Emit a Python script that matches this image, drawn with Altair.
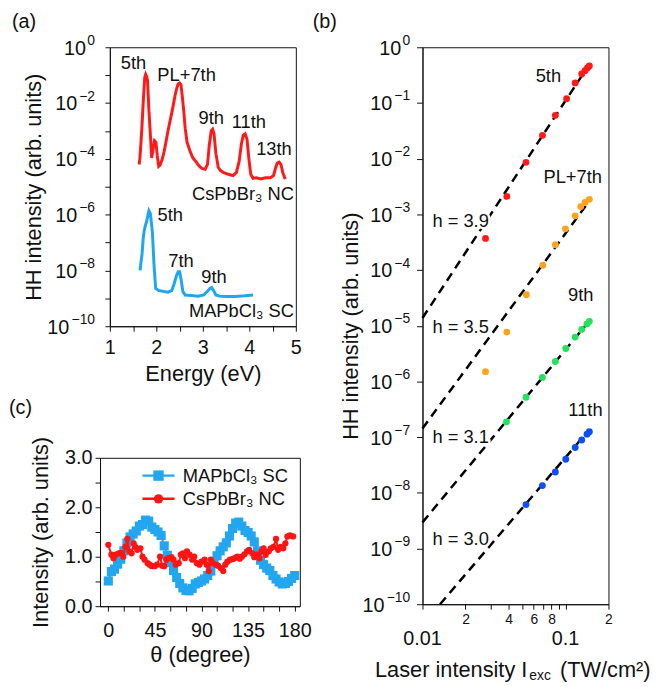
import altair as alt
import pandas as pd

FONT = "Liberation Sans"
INK = "#111111"

# ---------------- Panel (a): HH spectra ----------------
a_red_energy = [1.63, 1.645, 1.67, 1.69, 1.72, 1.75, 1.77, 1.79, 1.81, 1.84, 1.87, 1.90, 1.93, 1.96,
                1.99, 2.02, 2.05, 2.08, 2.12, 2.16, 2.20, 2.25, 2.30, 2.35, 2.40, 2.44, 2.47, 2.50,
                2.53, 2.56, 2.59, 2.62, 2.66, 2.72, 2.78, 2.85, 2.92, 2.98, 3.05, 3.10, 3.14, 3.18,
                3.21, 3.24, 3.28, 3.33, 3.38, 3.45, 3.55, 3.65, 3.72, 3.78, 3.83, 3.87, 3.91, 3.95,
                3.99, 4.03, 4.08, 4.15, 4.25, 4.35, 4.45, 4.52, 4.56, 4.60, 4.64, 4.68, 4.72, 4.76, 4.79]
a_red_intensity = [6.3e-5, 1.0e-4, 4.0e-4, 1.4e-3, 1.26e-2, 8.3e-2, 1.07e-1, 9.0e-2, 6.5e-2, 5.5e-3,
                   8.0e-4, 1.07e-4, 2.2e-4, 4.5e-4, 4.0e-4, 1.3e-4, 5.4e-5, 6.0e-5, 9.0e-5, 1.6e-4,
                   3.5e-4, 1.0e-3, 2.5e-3, 6.3e-3, 1.8e-2, 3.5e-2, 4.8e-2, 5.2e-2, 4.5e-2, 1.6e-2,
                   5.0e-3, 1.26e-3, 4.0e-4, 2.0e-4, 1.12e-4, 7.9e-5, 5.6e-5, 4.5e-5, 4.2e-5, 6.3e-5,
                   3.2e-4, 1.0e-3, 1.15e-3, 7.9e-4, 1.6e-4, 5.0e-5, 3.8e-5, 3.2e-5, 2.8e-5, 2.5e-5,
                   3.2e-5, 7.9e-5, 3.5e-4, 7.1e-4, 7.9e-4, 5.0e-4, 1.0e-4, 2.8e-5, 2.0e-5, 2.1e-5,
                   1.9e-5, 2.1e-5, 2.1e-5, 2.5e-5, 4.5e-5, 7.1e-5, 7.6e-5, 6.3e-5, 3.2e-5, 2.1e-5, 2.2e-5]
a_blue_energy = [1.65, 1.67, 1.69, 1.72, 1.74, 1.77, 1.79, 1.82, 1.84, 1.87, 1.90, 1.915, 1.95, 1.985,
                 2.05, 2.15, 2.25, 2.33, 2.38, 2.43, 2.47, 2.50, 2.53, 2.57, 2.62, 2.75, 2.90, 3.02,
                 3.10, 3.15, 3.19, 3.23, 3.28, 3.35, 3.50, 3.70, 3.90, 4.08]
a_blue_intensity = [1.0e-8, 2.0e-8, 3.5e-8, 1.6e-7, 2.7e-7, 4.5e-7, 5.4e-7, 1.0e-6, 1.38e-6, 1.1e-6,
                    4.0e-7, 2.3e-7, 1.55e-8, 2.3e-9, 1.9e-9, 1.78e-9, 1.66e-9, 1.9e-9, 3.2e-9, 6.3e-9,
                    8.9e-9, 8.9e-9, 5.0e-9, 1.78e-9, 1.32e-9, 1.26e-9, 1.2e-9, 1.32e-9, 1.78e-9,
                    2.24e-9, 2.4e-9, 1.9e-9, 1.32e-9, 1.2e-9, 1.17e-9, 1.17e-9, 1.23e-9, 1.32e-9]
a_red_label_text = ["5th", "PL+7th", "9th", "11th", "13th"]
a_red_label_energy = [1.51, 2.65, 3.18, 3.99, 4.53]
a_red_label_intensity = [0.27, 0.102, 3.0e-3, 2.1e-3, 2.2e-4]
a_blue_label_text = ["5th", "7th", "9th"]
a_blue_label_energy = [2.30, 2.53, 3.24]
a_blue_label_intensity = [9.3e-7, 2.2e-8, 5.9e-9]
a_sample_text = ["CsPbBr₃ NC", "MAPbCl₃ SC"]
a_sample_energy = [4.96, 4.96]
a_sample_intensity = [5.6e-6, 3.4e-10]
decades = [1, 1e-1, 1e-2, 1e-3, 1e-4, 1e-5, 1e-6, 1e-7, 1e-8, 1e-9, 1e-10]
decade_exponents = ["0", "−1", "−2", "−3", "−4", "−5", "−6", "−7", "−8", "−9", "−10"]
a_labelled_decades = [1, 1e-2, 1e-4, 1e-6, 1e-8, 1e-10]
a_labelled_exponents = ["0", "−2", "−4", "−6", "−8", "−10"]
a_energy_ticks = [1, 1.5, 2, 2.5, 3, 3.5, 4, 4.5, 5]

# ---------------- Panel (b): power scaling ----------------
b_orders = ["5th", "PL+7th", "9th", "11th"]
b_colors = ["#ff1a1a", "#ffa31a", "#22e35c", "#0d4ff2"]
b_red_I = [0.0276, 0.0389, 0.0530, 0.0691, 0.0850, 0.1019, 0.117, 0.130, 0.137, 0.1425, 0.147]
b_red_H = [3.7e-4, 2.1e-3, 8.6e-3, 2.62e-2, 6.0e-2, 0.119, 0.229, 0.331, 0.38, 0.424, 0.46]
b_orange_I = [0.0276, 0.0389, 0.0533, 0.0695, 0.085, 0.100, 0.117, 0.128, 0.137, 0.147]
b_orange_H = [1.5e-6, 7.7e-6, 3.6e-5, 1.22e-4, 2.84e-4, 5.5e-4, 9.4e-4, 1.38e-3, 1.63e-3, 1.86e-3]
b_green_I = [0.0387, 0.053, 0.069, 0.085, 0.1005, 0.117, 0.130, 0.1415, 0.147]
b_green_H = [1.88e-7, 5.2e-7, 1.18e-6, 2.28e-6, 3.9e-6, 6.25e-6, 8.6e-6, 1.08e-5, 1.2e-5]
b_blue_I = [0.053, 0.069, 0.085, 0.1005, 0.117, 0.130, 0.1415, 0.147]
b_blue_H = [6.15e-9, 1.35e-8, 2.37e-8, 4.0e-8, 6.5e-8, 8.9e-8, 1.13e-7, 1.25e-7]
b_fit_start_I = [0.01, 0.01, 0.01, 0.01326]
b_fit_start_H = [1.38e-5, 1.43e-7, 2.95e-9, 1e-10]
b_fit_end_I = [0.14, 0.14, 0.14, 0.14]
b_fit_end_H = [0.407, 1.47e-3, 1.05e-5, 1.18e-7]
b_order_label_I = [0.076, 0.1124, 0.128, 0.138]
b_order_label_H = [0.30, 4.7e-3, 3.6e-5, 3.0e-7]
b_h_text = ["h = 3.9", "h = 3.5", "h = 3.1", "h = 3.0"]
b_h_I = [0.01173, 0.01173, 0.01173, 0.01173]
b_h_H = [7.7e-4, 9.4e-6, 1.02e-7, 1.49e-9]
b_x_ticks = [0.01, 0.02, 0.03, 0.04, 0.05, 0.06, 0.07, 0.08, 0.09, 0.1, 0.2]
b_big_tick_values = [0.01, 0.1]
b_big_tick_text = ["0.01", "0.1"]

# ---------------- Panel (c): polarization ----------------
c_blue_theta = [0, 3, 6, 9, 12, 15, 18, 21, 24, 27, 30, 33, 36, 39, 42, 45, 48, 51, 54, 57, 60,
                63, 66, 69, 72, 75, 78, 81, 84, 87, 90, 93, 96, 99, 102, 105, 108, 111, 114, 117,
                120, 123, 126, 129, 132, 135, 138, 141, 144, 147, 150, 153, 156, 159, 162, 165,
                168, 171, 174, 177, 180]
c_blue_val = [0.51, 0.70, 0.75, 0.85, 0.95, 1.12, 1.28, 1.40, 1.46, 1.52, 1.62, 1.65, 1.74, 1.72,
              1.60, 1.55, 1.50, 1.43, 1.22, 1.03, 0.88, 0.72, 0.58, 0.46, 0.37, 0.32, 0.31, 0.36,
              0.45, 0.48, 0.51, 0.55, 0.62, 0.71, 0.86, 1.02, 1.12, 1.20, 1.28, 1.42, 1.57, 1.68,
              1.70, 1.62, 1.53, 1.49, 1.42, 1.30, 1.12, 0.93, 0.84, 0.77, 0.72, 0.62, 0.55, 0.49,
              0.45, 0.46, 0.50, 0.56, 0.62]
c_red_theta = [0, 3, 5, 7, 10, 12, 14.5, 16.5, 18.5, 20.5, 22.5, 24.5, 26, 28, 31, 33, 35, 38, 40,
               42, 45, 47, 50, 52, 54, 56, 58, 61, 63, 65, 68, 70, 72, 74, 76, 78.5, 81, 83, 85.5,
               88, 90, 93, 95, 97, 99, 101, 104, 106, 108.5, 111, 113, 115, 117.5, 120, 122, 124.5,
               127, 129, 131.5, 134, 136, 139, 141, 143.5, 146, 148, 150, 152, 155, 157, 159.5, 162,
               164, 166.5, 169, 171, 173, 175.5, 178.5]
c_red_val = [1.24, 1.04, 0.97, 1.04, 1.07, 1.08, 1.0, 1.2, 1.36, 1.11, 1.07, 1.27, 1.2, 1.14, 1.17,
             1.0, 0.94, 0.87, 0.84, 0.81, 0.81, 0.84, 1.0, 0.82, 0.81, 0.94, 0.97, 0.99, 0.94, 0.84,
             0.87, 1.04, 1.07, 0.97, 1.11, 1.04, 0.94, 1.0, 0.87, 0.84, 0.9, 0.94, 0.84, 0.71, 0.94,
             0.87, 0.84, 0.82, 0.77, 0.71, 0.84, 0.9, 0.94, 0.95, 0.97, 1.0, 0.96, 1.0, 1.05, 1.11,
             1.14, 1.07, 0.99, 1.04, 0.97, 1.11, 1.17, 1.04, 1.11, 1.17, 1.2, 1.36, 1.14, 1.2, 1.17,
             1.27, 1.41, 1.43, 1.41]
c_legend_labels = ["MAPbCl₃ SC", "CsPbBr₃ NC"]
c_legend_colors = ["#22a6f0", "#ff1414"]
c_legend_y = [2.64, 2.17]
c_legend_line_start = [33, 33]
c_legend_line_end = [64, 64]
c_legend_marker = [48.5, 48.5]
c_legend_text_x = [72, 72]
c_theta_ticks = [0, 15, 30, 45, 60, 75, 90, 105, 120, 135, 150, 165, 180]
c_val_ticks = [0, 0.5, 1, 1.5, 2, 2.5, 3]

LBL = 20
TTL = 22
ANN = 18.5


def tag(text, x, y):
    return alt.Chart(pd.DataFrame({"t": [text]})).mark_text(
        align="left", baseline="top", fontSize=20, font=FONT, color=INK
    ).encode(text="t:N", x=alt.value(x), y=alt.value(y))


def power_labels(field, yenc, values, exps, exp_x, ten_x):
    """'10' plus raised exponent, as text marks placed by the y scale."""
    df = pd.DataFrame({field: values, "e": exps})
    df["n"] = df["e"].str.len()
    layers = []
    for n, xpos in ten_x.items():
        layers.append(
            alt.Chart(df).transform_filter(f"datum.n == {n}").mark_text(
                text="10", align="right", baseline="middle", fontSize=LBL, font=FONT,
                color=INK, dy=1.5).encode(y=yenc, x=alt.value(xpos)))
    layers.append(
        alt.Chart(df).mark_text(align="right", baseline="middle", fontSize=14, font=FONT,
                                color=INK, dy=-6.5).encode(y=yenc, x=alt.value(exp_x), text="e:N"))
    return layers


# ---------- panel a ----------
ax = alt.X("energy:Q", scale=alt.Scale(domain=[1, 5], nice=False, zero=False),
           axis=alt.Axis(values=a_energy_ticks, title="Energy (eV)", labelOverlap=False,
                         labelExpr="datum.value % 1 == 0 ? format(datum.value, 'd') : ''",
                         labelPadding=7, titlePadding=6))
ay = alt.Y("intensity:Q", scale=alt.Scale(type="log", domain=[1e-10, 1], nice=False),
           axis=alt.Axis(values=decades, title="HH intensity (arb. units)", labels=False,
                         titlePadding=60))

a_red_df = pd.DataFrame({"energy": a_red_energy, "intensity": a_red_intensity})
a_blue_df = pd.DataFrame({"energy": a_blue_energy, "intensity": a_blue_intensity})
a_rl_df = pd.DataFrame({"energy": a_red_label_energy, "intensity": a_red_label_intensity, "t": a_red_label_text})
a_bl_df = pd.DataFrame({"energy": a_blue_label_energy, "intensity": a_blue_label_intensity, "t": a_blue_label_text})
a_s_df = pd.DataFrame({"energy": a_sample_energy, "intensity": a_sample_intensity, "t": a_sample_text})

a_chart = alt.layer(
    alt.Chart(a_red_df).mark_line(color="#ff1a1a", strokeWidth=3).encode(x=ax, y=ay),
    alt.Chart(a_blue_df).mark_line(color="#1ea6f0", strokeWidth=3).encode(x=ax, y=ay),
    alt.Chart(a_rl_df).mark_text(fontSize=ANN, font=FONT, color=INK, baseline="middle").encode(x=ax, y=ay, text="t:N"),
    alt.Chart(a_bl_df).mark_text(fontSize=ANN, font=FONT, color=INK, baseline="middle").encode(x=ax, y=ay, text="t:N"),
    alt.Chart(a_s_df).mark_text(fontSize=ANN, font=FONT, color=INK, baseline="middle", align="right").encode(x=ax, y=ay, text="t:N"),
    *power_labels("intensity", ay, a_labelled_decades, a_labelled_exponents, -15,
                  {1: -24, 2: -33, 3: -41}),
    tag("(a)", -99, -35),
).properties(width=188, height=282)

# ---------- panel b ----------
b_label_expr = ("datum.value == 0.02 || datum.value == 0.2 ? '2' : datum.value == 0.04 ? '4' : "
                "datum.value == 0.06 ? '6' : datum.value == 0.08 ? '8' : ''")
bx = alt.X("I:Q", scale=alt.Scale(type="log", domain=[0.01, 0.2], nice=False),
           axis=alt.Axis(values=b_x_ticks, title=None, labelExpr=b_label_expr, labelOverlap=False,
                         labelFontSize=14, labelPadding=3))
by = alt.Y("H:Q", scale=alt.Scale(type="log", domain=[1e-10, 1], nice=False),
           axis=alt.Axis(values=decades, title="HH intensity (arb. units)", labels=False,
                         tickSize=6, titlePadding=54))

pts = []
for name, col, xs, ys in [("5th", b_colors[0], b_red_I, b_red_H),
                          ("PL+7th", b_colors[1], b_orange_I, b_orange_H),
                          ("9th", b_colors[2], b_green_I, b_green_H),
                          ("11th", b_colors[3], b_blue_I, b_blue_H)]:
    for xv, yv in zip(xs, ys):
        pts.append({"order": name, "col": col, "I": xv, "H": yv})
b_pts_df = pd.DataFrame(pts)

fit_rows = []
for k in range(4):
    fit_rows.append({"fit": b_h_text[k], "I": b_fit_start_I[k], "H": b_fit_start_H[k]})
    fit_rows.append({"fit": b_h_text[k], "I": b_fit_end_I[k], "H": b_fit_end_H[k]})
b_fit_df = pd.DataFrame(fit_rows)
b_ol_df = pd.DataFrame({"I": b_order_label_I, "H": b_order_label_H, "t": b_orders})
b_h_df = pd.DataFrame({"I": b_h_I, "H": b_h_H, "t": b_h_text})
b_big_df = pd.DataFrame({"I": b_big_tick_values, "t": b_big_tick_text})

b_chart = alt.layer(
    alt.Chart(b_fit_df).mark_line(color="black", strokeWidth=2.5, strokeDash=[9, 6]).encode(
        x=bx, y=by, detail="fit:N"),
    alt.Chart(b_pts_df).mark_circle(size=48, opacity=1).encode(
        x=bx, y=by, color=alt.Color("col:N", scale=None)),
    alt.Chart(b_ol_df).mark_text(fontSize=ANN, font=FONT, color=INK, baseline="middle").encode(x=bx, y=by, text="t:N"),
    # white halo so the dashed fits break around the exponent labels, as in the original
    alt.Chart(b_h_df).mark_text(fontSize=ANN, font=FONT, color="white", stroke="white", strokeWidth=5,
                                baseline="middle", align="left").encode(x=bx, y=by, text="t:N"),
    alt.Chart(b_h_df).mark_text(fontSize=ANN, font=FONT, color=INK, baseline="middle", align="left").encode(x=bx, y=by, text="t:N"),
    alt.Chart(b_big_df).mark_text(fontSize=20, font=FONT, color=INK, baseline="middle").encode(
        x=bx, y=alt.value(598), text="t:N"),
    *power_labels("H", by, decades, decade_exponents, -12.5,
                  {1: -21.5, 2: -30.5, 3: -38.5}),
    alt.Chart(pd.DataFrame({"t": ["Laser intensity I"]})).mark_text(
        fontSize=TTL, font=FONT, color=INK, align="right", baseline="middle").encode(
        text="t:N", x=alt.value(106), y=alt.value(630)),
    alt.Chart(pd.DataFrame({"t": ["exc"]})).mark_text(
        fontSize=14, font=FONT, color=INK, align="left", baseline="middle").encode(
        text="t:N", x=alt.value(108), y=alt.value(636)),
    alt.Chart(pd.DataFrame({"t": ["(TW/cm²)"]})).mark_text(
        fontSize=TTL, font=FONT, color=INK, align="left", baseline="middle").encode(
        text="t:N", x=alt.value(139), y=alt.value(630)),
    tag("(b)", -111, -35),
).properties(width=188, height=563)

# ---------- panel c ----------
cx = alt.X("theta:Q", scale=alt.Scale(domain=[-8, 185], nice=False, zero=False),
           axis=alt.Axis(values=c_theta_ticks, title="θ (degree)", labelOverlap=False,
                         labelExpr="datum.value % 45 == 0 ? format(datum.value, 'd') : ''",
                         labelPadding=10, titlePadding=4))
cx2 = alt.X2("theta_end:Q")
cy = alt.Y("val:Q", scale=alt.Scale(domain=[0, 3], nice=False),
           axis=alt.Axis(values=c_val_ticks, title="Intensity (arb. units)", labelOverlap=False,
                         labelExpr="datum.value % 1 == 0 ? format(datum.value, '.1f') : ''",
                         labelPadding=3, titlePadding=12))

c_blue_df = pd.DataFrame({"theta": c_blue_theta, "val": c_blue_val})
c_red_df = pd.DataFrame({"theta": c_red_theta, "val": c_red_val})
c_leg_line_df = pd.DataFrame({"col": c_legend_colors, "val": c_legend_y,
                              "theta": c_legend_line_start, "theta_end": c_legend_line_end})
c_leg_mark_df = pd.DataFrame({"val": c_legend_y, "theta": c_legend_marker})
c_leg_text_df = pd.DataFrame({"label": c_legend_labels, "val": c_legend_y, "theta": c_legend_text_x})

c_chart = alt.layer(
    alt.Chart(c_blue_df).mark_line(color="#22a6f0", strokeWidth=2).encode(x=cx, y=cy),
    alt.Chart(c_blue_df).mark_square(color="#22a6f0", size=85, opacity=1).encode(x=cx, y=cy),
    alt.Chart(c_red_df).mark_line(color="#ff1414", strokeWidth=2).encode(x=cx, y=cy),
    alt.Chart(c_red_df).mark_circle(color="#ff1414", size=40, opacity=1).encode(x=cx, y=cy),
    alt.Chart(c_leg_line_df).mark_rule(strokeWidth=2.5).encode(
        x=cx, x2=cx2, y=cy, color=alt.Color("col:N", scale=None)),
    alt.Chart(c_leg_mark_df.iloc[[0]]).mark_square(size=110, opacity=1, color="#22a6f0").encode(x=cx, y=cy),
    alt.Chart(c_leg_mark_df.iloc[[1]]).mark_circle(size=90, opacity=1, color="#ff1414").encode(x=cx, y=cy),
    alt.Chart(c_leg_text_df).mark_text(fontSize=ANN, font=FONT, color=INK, align="left", baseline="middle").encode(
        x=cx, y=cy, text="label:N"),
    tag("(c)", -92, -60),
).properties(width=202, height=150)

left = alt.vconcat(a_chart, c_chart, spacing=12, center=True)
chart = alt.hconcat(left, b_chart, spacing=0).properties(padding=0).configure_view(
    stroke=INK, strokeWidth=1
).configure_axis(
    grid=False, labelFont=FONT, titleFont=FONT, labelFontSize=LBL, titleFontSize=TTL,
    titleFontWeight="normal", labelColor=INK, titleColor=INK, tickColor=INK,
    domainColor=INK, tickSize=5, labelFlush=False, labelOverlap=False
).configure_text(font=FONT)

chart.save("out.html", embed_options={"renderer": "svg", "actions": False})
